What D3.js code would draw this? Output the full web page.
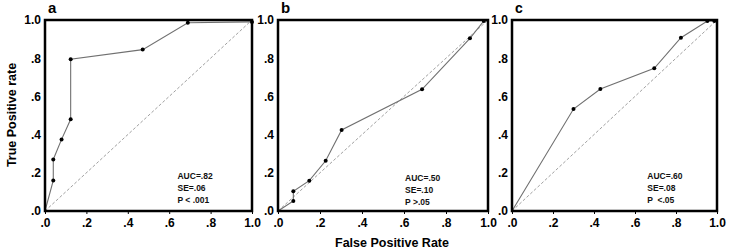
<!DOCTYPE html>
<html>
<head>
<meta charset="utf-8">
<script src="https://cdn.jsdelivr.net/npm/d3@7"></script>
<style>
  body { margin: 0; background: #fff; }
  svg { display: block; font-family: "Liberation Sans", Arial, sans-serif; }
  .tick text { font-size: 12px; font-weight: bold; fill: #000; }
  .tick line { stroke: #000; }
  .domain { display: none; }
</style>
</head>
<body>
<div id="chart"></div>
<script>
// tick values and labels shared by all panels
var tickValues = [0, 0.2, 0.4, 0.6, 0.8, 1.0];
var tickLabels = [".0", ".2", ".4", ".6", ".8", "1.0"];
var panelNames = ["a", "b", "c"];

// ROC points
var fprA = [0, 0.04, 0.04, 0.08, 0.124, 0.124, 0.472, 0.69, 1.0];
var tprA = [0, 0.16, 0.27, 0.375, 0.48, 0.795, 0.845, 0.986, 0.99];
var fprB = [0, 0.073, 0.073, 0.149, 0.227, 0.303, 0.686, 0.914, 0.98, 1.0];
var tprB = [0, 0.052, 0.103, 0.159, 0.263, 0.424, 0.637, 0.904, 0.995, 1.0];
var fprC = [0, 0.30, 0.431, 0.694, 0.824, 0.953, 0.987, 1.0];
var tprC = [0, 0.534, 0.639, 0.747, 0.907, 0.995, 0.995, 1.0];

var statsA = ["AUC=.82", "SE=.06", "P < .001"];
var statsB = ["AUC=.50", "SE=.10", "P >.05"];
var statsC = ["AUC=.60", "SE=.08", "P  <.05"];

var panels = [
  { name: panelNames[0], fpr: fprA, tpr: tprA, stats: statsA, left: 45, right: 252, statX: 0.64, dots: [1,2,3,4,5,6,7,8] },
  { name: panelNames[1], fpr: fprB, tpr: tprB, stats: statsB, left: 278, right: 488, statX: 0.605, dots: [1,2,3,4,5,6,7,8] },
  { name: panelNames[2], fpr: fprC, tpr: tprC, stats: statsC, left: 512, right: 717, statX: 0.66, dots: [1,2,3,4,5,6] }
];

var width = 729, height = 250;
var plotTop = 20, plotBottom = 211;

var svg = d3.select("#chart").append("svg")
  .attr("width", width)
  .attr("height", height);

panels.forEach(function (p, pi) {
  var x = d3.scaleLinear().domain([0, 1]).range([p.left, p.right]);
  var y = d3.scaleLinear().domain([0, 1]).range([plotBottom, plotTop]);
  var g = svg.append("g");

  var pts = p.fpr.map(function (f, i) { return [f, p.tpr[i]]; });

  // axes
  var xAxis = d3.axisBottom(x).tickValues(tickValues).tickSize(3).tickPadding(4)
    .tickFormat(function (d, i) { return tickLabels[i]; });
  var yAxis = d3.axisLeft(y).tickValues(tickValues).tickSize(0).tickPadding(4)
    .tickFormat(function (d, i) { return tickLabels[i]; });

  g.append("g").attr("transform", "translate(0," + plotBottom + ")").call(xAxis);
  g.append("g").attr("transform", "translate(" + p.left + ",0)").call(yAxis);

  // chance diagonal
  g.append("line")
    .attr("x1", x(0)).attr("y1", y(0))
    .attr("x2", x(1)).attr("y2", y(1))
    .attr("stroke", "#888")
    .attr("stroke-width", 0.8)
    .attr("stroke-dasharray", "3,2");

  // ROC curve
  var line = d3.line().x(function (d) { return x(d[0]); }).y(function (d) { return y(d[1]); });
  g.append("path")
    .datum(pts)
    .attr("d", line)
    .attr("fill", "none")
    .attr("stroke", "#707070")
    .attr("stroke-width", 1.1);

  g.selectAll("circle")
    .data(p.dots.map(function (i) { return pts[i]; }))
    .enter().append("circle")
    .attr("cx", function (d) { return x(d[0]); })
    .attr("cy", function (d) { return y(d[1]); })
    .attr("r", 2)
    .attr("fill", "#000");

  // frame
  g.append("rect")
    .attr("x", p.left).attr("y", plotTop)
    .attr("width", p.right - p.left).attr("height", plotBottom - plotTop)
    .attr("fill", "none")
    .attr("stroke", "#000")
    .attr("stroke-width", 2.5);

  // panel letter
  g.append("text")
    .attr("x", p.left + 3)
    .attr("y", 13)
    .attr("font-size", pi === 2 ? "14px" : "15px")
    .attr("font-weight", "bold")
    .text(p.name);

  // stats
  g.selectAll(".stat")
    .data(p.stats)
    .enter().append("text")
    .attr("class", "stat")
    .attr("x", p.left + p.statX * (p.right - p.left))
    .attr("y", function (d, i) { return 179 + i * 12 + (pi === 1 ? 2 : 0); })
    .attr("font-size", "8.5px")
    .attr("font-weight", "bold")
    .attr("fill", "#111")
    .attr("xml:space", "preserve")
    .text(function (d) { return d; });
});

// axis titles
svg.append("text")
  .attr("transform", "translate(16,115) rotate(-90)")
  .attr("text-anchor", "middle")
  .attr("font-size", "12.5px")
  .attr("font-weight", "bold")
  .text("True Positive rate");

svg.append("text")
  .attr("x", 392)
  .attr("y", 247)
  .attr("text-anchor", "middle")
  .attr("font-size", "12.5px")
  .attr("font-weight", "bold")
  .text("False Positive Rate");
</script>
</body>
</html>
